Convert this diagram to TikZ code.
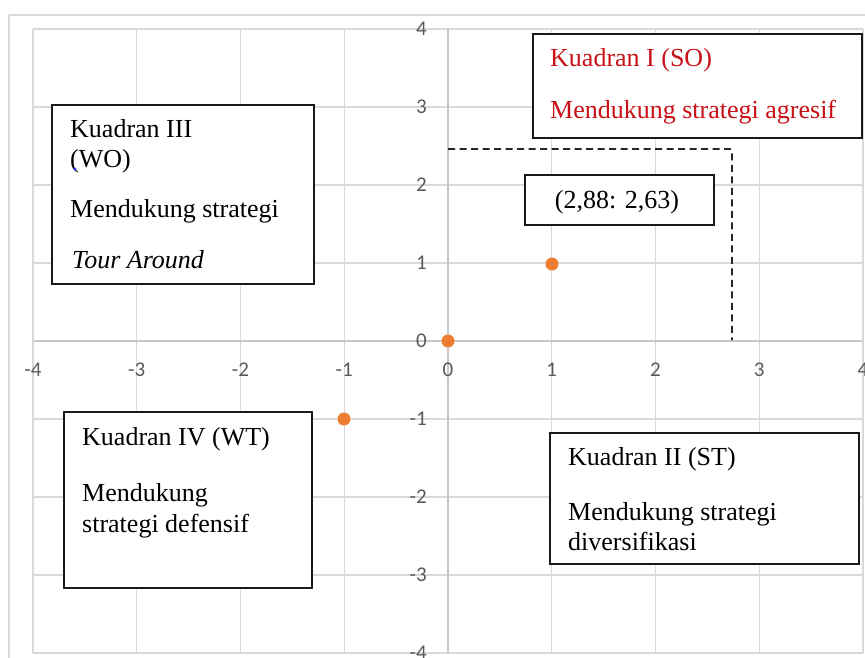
\documentclass[tikz,border=0pt]{standalone}
\usepackage{fontspec}
\setmainfont{Liberation Serif}
\newfontfamily\tickfont{Carlito}
\definecolor{gridgray}{RGB}{217,217,217}
\definecolor{axisgray}{RGB}{200,200,200}
\definecolor{ticktext}{RGB}{89,89,89}
\definecolor{ptorange}{RGB}{237,125,49}
\definecolor{sored}{RGB}{200,16,22}
\begin{document}
\begin{tikzpicture}[x=1pt,y=-1pt,
  gridline/.style={draw=gridgray, line width=1.4pt},
  axisline/.style={draw=axisgray, line width=1.5pt},
  ticklab/.style={font=\tickfont\fontsize{21}{24}\selectfont, text=ticktext, inner sep=0pt},
  qbox/.style={draw=black!90, line width=1.6pt, fill=white, rectangle, inner sep=0pt, anchor=north west},
  qtext/.style={anchor=base west, inner sep=0pt, font=\fontsize{26}{30}\selectfont},
  pt/.style={circle, fill=ptorange, inner sep=0pt, minimum size=13pt},
  guide/.style={draw=black!85, line width=1.8pt, dash pattern=on 7pt off 4.5pt}
]
\useasboundingbox (0,0) rectangle (865,657);
% chart frame
\draw[draw=gridgray, line width=1.4pt] (9,15) -- (880,15);
\draw[draw=gridgray, line width=1.4pt] (9,15) -- (9,670);
% grid
\foreach \i in {-4,...,4} {
  \draw[gridline] ({448+103.75*\i},29) -- ({448+103.75*\i},653);
  \draw[gridline] (33,{341-78*\i}) -- (863,{341-78*\i});
}
\draw[axisline] (448,29) -- (448,653);
\draw[axisline] (33,341) -- (863,341);
% tick labels
\foreach \i in {-4,...,4} {
  \node[ticklab, anchor=east] (yl\i) at (427,{341-78*\i}) {\i};
  \node[ticklab] (xl\i) at ({448+103.75*\i},370) {\i};
}
% dashed guide
\coordinate (g0) at (448,149);
\coordinate (g1) at (732,149);
\coordinate (g2) at (732,340);
\draw[guide, rounded corners=2pt] (g0) -- (g1) -- (g2);
% points
\node[pt] (p0) at (448,341) {};
\node[pt] (p1) at (552,264) {};
\node[pt] (p2) at (344,419) {};
% Kuadran III
\node[qbox, minimum width=262pt, minimum height=179pt] (q3) at (51,104) {};
\node[qtext] (q3a) at (70,137) {Kuadran III};
\node[qtext] (q3b) at (70,167) {(WO)};
\node[qtext] (q3c) at (70,217) {Mendukung strategi};
\node[qtext] (q3d) at (72,268) {\itshape Tour Around};
\fill[blue!80] (75,169) circle (1.6pt);
% Kuadran I
\node[qbox, minimum width=329pt, minimum height=104pt] (q1) at (532,33) {};
\node[qtext, text=sored] (q1a) at (550,66) {Kuadran I (SO)};
\node[qtext, text=sored] (q1b) at (550,118) {Mendukung strategi agresif};
% coordinate label
\node[qbox, minimum width=189pt, minimum height=50pt] (cb) at (524,174) {};
\node[qtext, anchor=base] (cbt) at (617,208) {(2,88: 2,63)};
% Kuadran IV
\node[qbox, minimum width=248pt, minimum height=176pt] (q4) at (63,411) {};
\node[qtext] (q4a) at (82,445) {Kuadran IV (WT)};
\node[qtext] (q4b) at (82,501) {Mendukung};
\node[qtext] (q4c) at (82,532) {strategi defensif};
% Kuadran II
\node[qbox, minimum width=309pt, minimum height=131pt] (q2) at (549,432) {};
\node[qtext] (q2a) at (568,465) {Kuadran II (ST)};
\node[qtext] (q2b) at (568,520) {Mendukung strategi};
\node[qtext] (q2c) at (568,550) {diversifikasi};
\end{tikzpicture}
\end{document}
